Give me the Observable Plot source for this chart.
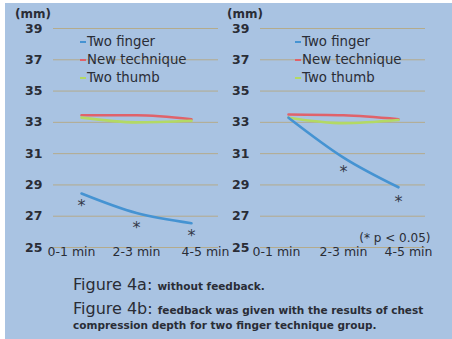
<!DOCTYPE html>
<html><head><meta charset="utf-8">
<script src="https://cdn.jsdelivr.net/npm/d3@7"></script>
<script src="https://cdn.jsdelivr.net/npm/@observablehq/plot@0.6"></script>
<style>
html,body{margin:0;padding:0;background:#fff;}
#page{position:absolute;left:5px;top:3px;width:447px;height:336px;background:#a9c3e2;overflow:hidden;}
.abs{position:absolute;font-family:'DejaVu Sans',sans-serif;color:#2a2d36;white-space:nowrap;}
.panel{position:absolute;top:0;}
.leg{position:absolute;font-family:'DejaVu Sans',sans-serif;font-size:13.3px;color:#2a2d36;line-height:18px;}
.leg div{display:flex;align-items:center;}
.leg span.sw{display:inline-block;width:6px;height:2px;margin-right:1px;}
</style></head>
<body>
<div id="page"></div>
<script>
const times = ["0-1 min", "2-3 min", "4-5 min"];
const yTicks = [25, 27, 29, 31, 33, 35, 37, 39];
const seriesNames = ["Two finger", "New technique", "Two thumb"];
const seriesColors = ["#4593d2", "#e0626a", "#b3d964"];
// Figure 4a: without feedback
const twoFingerA = [28.45, 27.2, 26.55];
const newTechA = [33.45, 33.45, 33.2];
const twoThumbA = [33.3, 33.0, 33.1];
const starA = [27.9, 26.5, 26.0];
// Figure 4b: with feedback
const twoFingerB = [33.3, 30.75, 28.85];
const newTechB = [33.5, 33.45, 33.2];
const twoThumbB = [33.3, 32.95, 33.15];
const starB = [null, 30.1, 28.2];

const page = document.getElementById("page");
const font = "'DejaVu Sans', sans-serif";
const ink = "#2a2d36";

function rows(vals, name) { return times.map((t, i) => ({t, v: vals[i], s: name})); }

function panel(opts) {
  const {left, width, mL, mR, padding, fingers, news, thumbs, stars, labelDx, note} = opts;
  const data = [...rows(news, seriesNames[1]), ...rows(thumbs, seriesNames[2]), ...rows(fingers, seriesNames[0])];
  const starData = rows(stars, "*").filter(d => d.v != null);
  const marks = [
    Plot.ruleY(yTicks, {stroke: "#b4ab8c", strokeWidth: 1}),
    Plot.ruleX([times[0]], {x: () => null, stroke: "#b8b8a8", strokeWidth: 1}),
    Plot.axisY({ticks: yTicks, tickSize: 0, tickPadding: 11, label: null, fontSize: 12.5, fontWeight: "bold", fill: ink, stroke: "none"}),
    ...times.map((t, i) => Plot.axisX([t], {tickSize: 0, tickPadding: 0, dx: labelDx[i], label: null, fontSize: 12.5, fill: ink})),
    Plot.line(data, {x: "t", y: "v", z: "s", stroke: "s", strokeWidth: 2.6, curve: "monotone-x"}),
    Plot.text(starData, {x: "t", y: "v", text: () => "*", fontSize: 16, dy: 4, fill: "#333a48"})
  ];
  if (note) marks.push(Plot.text([note], {frameAnchor: "bottom-right", text: d => d, fontSize: 12, dx: 5, dy: -6, fill: ink}));
  const chart = Plot.plot({
    width, height: 265,
    marginLeft: mL, marginRight: mR, marginTop: 25, marginBottom: 21,
    style: {background: "transparent", fontFamily: font, overflow: "visible"},
    x: {type: "point", domain: times, padding, axis: null},
    y: {domain: [25, 39], axis: null},
    color: {domain: seriesNames, range: seriesColors},
    marks
  });
  chart.classList.add("panel");
  chart.style.left = left + "px";
  page.appendChild(chart);
}

panel({left: -5, width: 226, mL: 53, mR: 8, padding: 0.48, fingers: twoFingerA, news: newTechA, thumbs: twoThumbA, stars: starA, labelDx: [-10, 0, 14]});
panel({left: 221, width: 226, mL: 34, mR: 27, padding: 0.5, fingers: twoFingerB, news: newTechB, thumbs: twoThumbB, stars: starB, labelDx: [-12, 0, 10], note: "(* p < 0.05)"});

function label(text, x, y, size, weight) {
  const d = document.createElement("div");
  d.className = "abs"; d.textContent = text;
  d.style.left = x + "px"; d.style.top = y + "px";
  d.style.fontSize = size + "px"; d.style.fontWeight = weight || "normal";
  d.style.lineHeight = "1";
  page.appendChild(d); return d;
}
label("(mm)", 10, 5, 12, "bold");
label("(mm)", 222, 5, 12, "bold");

function legend(x, y) {
  const L = document.createElement("div");
  L.className = "leg"; L.style.left = x + "px"; L.style.top = y + "px";
  seriesNames.forEach((n, i) => {
    const r = document.createElement("div");
    const sw = document.createElement("span"); sw.className = "sw"; sw.style.background = seriesColors[i];
    r.appendChild(sw); r.appendChild(document.createTextNode(n));
    L.appendChild(r);
  });
  page.appendChild(L);
}
legend(75, 30);
legend(290, 30);

function cap(x, y, big, small) {
  const d = document.createElement("div");
  d.className = "abs"; d.style.left = x + "px"; d.style.top = y + "px";
  d.innerHTML = `<span style="font-size:16px">${big}</span> <span style="font-size:10.5px;font-weight:bold">${small}</span>`;
  page.appendChild(d);
}
cap(68, 272, "Figure 4a:", "without feedback.");
cap(68, 296, "Figure 4b:", "feedback was given with the results of chest");
label("compression depth for two finger technique group.", 68, 317, 10.5, "bold");
</script>
</body></html>
